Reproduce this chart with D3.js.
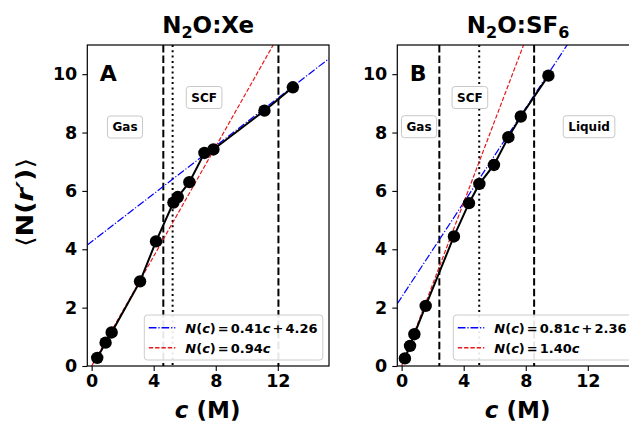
<!DOCTYPE html>
<html>
<head>
<meta charset="utf-8">
<script src="https://cdn.jsdelivr.net/npm/d3@7"></script>
<style>
  body { margin: 0; background: #fff; }
  svg { display: block; font-family: "DejaVu Sans", sans-serif; }
  text { font-weight: bold; }
</style>
</head>
<body>
<svg id="chart" width="629" height="421"></svg>
<script>
// N2O:Xe mixture — coordination number vs concentration
const xeConc = [0.36, 0.9, 1.29, 3.12, 4.15, 5.27, 5.55, 6.3, 7.27, 7.85, 11.14, 12.97];
const xeN    = [0.28, 0.8, 1.15, 2.9, 4.27, 5.6, 5.79, 6.3, 7.3, 7.42, 8.75, 9.55];
// N2O:SF6 mixture
const sf6Conc = [0.21, 0.54, 0.82, 1.55, 3.37, 4.34, 5.01, 5.95, 6.88, 7.68, 9.46];
const sf6N    = [0.26, 0.69, 1.09, 2.06, 4.44, 5.58, 6.24, 6.89, 7.84, 8.55, 9.95];

// linear fits: [slope, intercept] and proportional slope
const xeFitLinear = [0.41, 4.26];
const xeFitProp = 0.94;
const sf6FitLinear = [0.81, 2.36];
const sf6FitProp = 1.40;

// phase boundaries (dashed) and critical concentration (dotted)
const xeBounds = [4.62, 12.04];
const xeCritical = 5.22;
const sf6Bounds = [2.43, 8.54];
const sf6Critical = 5.0;

const xTicks = [0, 4, 8, 12];
const yTicks = [0, 2, 4, 6, 8, 10];
const xDomain = [-0.28, 15.3];
const yDomain = [0, 11];

const svg = d3.select("#chart");
const W = 241.7, H = 321, TOP = 45;

// legend label pieces: [text, italic?, extra space before]
function linearLabel(m, b) {
  return [["N", true, 0], ["(", false, 0], ["c", true, 0], [")", false, 0],
          ["=", false, 2], [m.toFixed(2), false, 2], ["c", true, 0],
          ["+", false, 2], [b.toFixed(2), false, 2]];
}
function propLabel(k) {
  return [["N", true, 0], ["(", false, 0], ["c", true, 0], [")", false, 0],
          ["=", false, 2], [k.toFixed(2), false, 2], ["c", true, 0]];
}

function panel(opts) {
  const g = svg.append("g").attr("transform", `translate(${opts.left},${TOP})`);
  const x = d3.scaleLinear().domain(xDomain).range([0, W]);
  const y = d3.scaleLinear().domain(yDomain).range([H, 0]);

  const clipId = "clip-" + opts.id;
  g.append("clipPath").attr("id", clipId)
    .append("rect").attr("width", W).attr("height", H);
  const plot = g.append("g").attr("clip-path", `url(#${clipId})`);

  // phase boundary lines
  opts.bounds.forEach(b => {
    plot.append("line").attr("x1", x(b)).attr("x2", x(b)).attr("y1", 0).attr("y2", H)
      .attr("stroke", "#000").attr("stroke-width", 2).attr("stroke-dasharray", "7.4,3.2");
  });
  plot.append("line").attr("x1", x(opts.critical)).attr("x2", x(opts.critical))
    .attr("y1", 0).attr("y2", H)
    .attr("stroke", "#000").attr("stroke-width", 2).attr("stroke-dasharray", "2,3.3");

  // fit lines
  const [m, b0] = opts.fitLinear;
  plot.append("line")
    .attr("x1", x(xDomain[0])).attr("y1", y(m * xDomain[0] + b0))
    .attr("x2", x(xDomain[1])).attr("y2", y(m * xDomain[1] + b0))
    .attr("stroke", "#0000ff").attr("stroke-width", 1.2)
    .attr("stroke-dasharray", "7.7,1.9,1.2,1.9");
  const cTop = yDomain[1] / opts.fitProp;
  plot.append("line")
    .attr("x1", x(0)).attr("y1", y(0))
    .attr("x2", x(cTop)).attr("y2", y(yDomain[1]))
    .attr("stroke", "#e8191c").attr("stroke-width", 1.2)
    .attr("stroke-dasharray", "4.4,1.9");

  // data
  const pts = opts.conc.map((c, i) => [c, opts.N[i]]);
  plot.append("path").datum(pts)
    .attr("d", d3.line().x(d => x(d[0])).y(d => y(d[1])))
    .attr("fill", "none").attr("stroke", "#000").attr("stroke-width", 2);
  plot.selectAll("circle.pt").data(pts).enter().append("circle")
    .attr("class", "pt")
    .attr("cx", d => x(d[0])).attr("cy", d => y(d[1])).attr("r", 6.2)
    .attr("fill", "#000");

  // phase labels
  opts.labels.forEach(l => {
    const t = plot.append("text").attr("x", x(l.c)).attr("y", y(l.n))
      .attr("text-anchor", "middle").attr("dominant-baseline", "central")
      .attr("font-size", 12).text(l.text);
    const bb = t.node().getBBox();
    plot.insert("rect", () => t.node())
      .attr("x", bb.x - 5).attr("y", bb.y - 4)
      .attr("width", bb.width + 10).attr("height", bb.height + 8)
      .attr("rx", 3).attr("fill", "#fff").attr("stroke", "#c8c8c8").attr("stroke-width", 1);
  });

  // panel letter
  plot.append("text").attr("x", 12.5).attr("y", 36).attr("font-size", 22).text(opts.letter);

  // legend
  const lg = plot.append("g").attr("transform", `translate(${opts.legendX},270)`);
  lg.append("rect").attr("x", 0).attr("y", 0).attr("width", 178.5).attr("height", 45)
    .attr("rx", 3).attr("fill", "#fff").attr("fill-opacity", 0.9)
    .attr("stroke", "#cccccc").attr("stroke-width", 1);
  const entries = [
    { color: "#0000ff", dash: "7.7,1.9,1.2,1.9", parts: linearLabel(m, b0) },
    { color: "#e8191c", dash: "4.4,1.9", parts: propLabel(opts.fitProp) }
  ];
  entries.forEach((e, i) => {
    const yy = 12.7 + i * 20;
    lg.append("line").attr("x1", 4.5).attr("x2", 31).attr("y1", yy).attr("y2", yy)
      .attr("stroke", e.color).attr("stroke-width", 1.5).attr("stroke-dasharray", e.dash);
    const t = lg.append("text").attr("x", 41).attr("y", yy)
      .attr("dominant-baseline", "central").attr("font-size", 13);
    e.parts.forEach(p => {
      t.append("tspan").attr("font-style", p[1] ? "italic" : "normal")
        .attr("dx", p[2]).text(p[0]);
    });
  });

  // frame
  g.append("rect").attr("width", W).attr("height", H)
    .attr("fill", "none").attr("stroke", "#000").attr("stroke-width", 1.2);

  // axes
  const xa = g.append("g").attr("transform", `translate(0,${H})`)
    .call(d3.axisBottom(x).tickValues(xTicks).tickSize(5).tickSizeOuter(0).tickPadding(4));
  const ya = g.append("g")
    .call(d3.axisLeft(y).tickValues(yTicks).tickSize(5).tickSizeOuter(0).tickPadding(5));
  [xa, ya].forEach(a => {
    a.select(".domain").remove();
    a.selectAll("text").attr("font-size", 17.5).attr("font-family", "DejaVu Sans").attr("font-weight", "bold").attr("fill", "#000");
    a.selectAll("line").attr("stroke-width", 1.1);
  });

  // x label
  const xl = g.append("text").attr("x", W / 2 - 0.5).attr("y", 372.5)
    .attr("text-anchor", "middle").attr("font-size", 23);
  xl.append("tspan").attr("font-style", "italic").text("c");
  xl.append("tspan").text(" (M)");

  // title with subscripts
  const tt = g.append("text").attr("x", W / 2).attr("y", -11.7)
    .attr("text-anchor", "middle").attr("font-size", 23);
  opts.title.forEach(p => {
    if (p[1]) tt.append("tspan").attr("font-size", 16).attr("dy", 5).text(p[0]);
    else tt.append("tspan").attr("dy", p[2] || 0).text(p[0]);
  });
}

panel({
  id: "xe", left: 87.3, letter: "A",
  conc: xeConc, N: xeN, fitLinear: xeFitLinear, fitProp: xeFitProp,
  bounds: xeBounds, critical: xeCritical,
  labels: [{ text: "Gas", c: 2.15, n: 8.19 }, { text: "SCF", c: 7.25, n: 9.2 }],
  legendX: 57,
  title: [["N", false], ["2", true], ["O:Xe", false, -5]]
});

panel({
  id: "sf6", left: 397.3, letter: "B",
  conc: sf6Conc, N: sf6N, fitLinear: sf6FitLinear, fitProp: sf6FitProp,
  bounds: sf6Bounds, critical: sf6Critical,
  labels: [{ text: "Gas", c: 1.12, n: 8.2 }, { text: "SCF", c: 4.4, n: 9.2 }, { text: "Liquid", c: 12.08, n: 8.2 }],
  legendX: 56,
  title: [["N", false], ["2", true], ["O:SF", false, -5], ["6", true]]
});

// shared y label
const yl = svg.append("text").attr("transform", "translate(33,202.5) rotate(-90)")
  .attr("text-anchor", "middle").attr("font-size", 23)
  .attr("textLength", 89).attr("lengthAdjust", "spacingAndGlyphs");
yl.append("tspan").attr("font-weight", "normal").text("⟨");
yl.append("tspan").text("N(");
yl.append("tspan").attr("font-style", "italic").text("r′");
yl.append("tspan").text(")");
yl.append("tspan").attr("font-weight", "normal").text("⟩");
</script>
</body>
</html>
